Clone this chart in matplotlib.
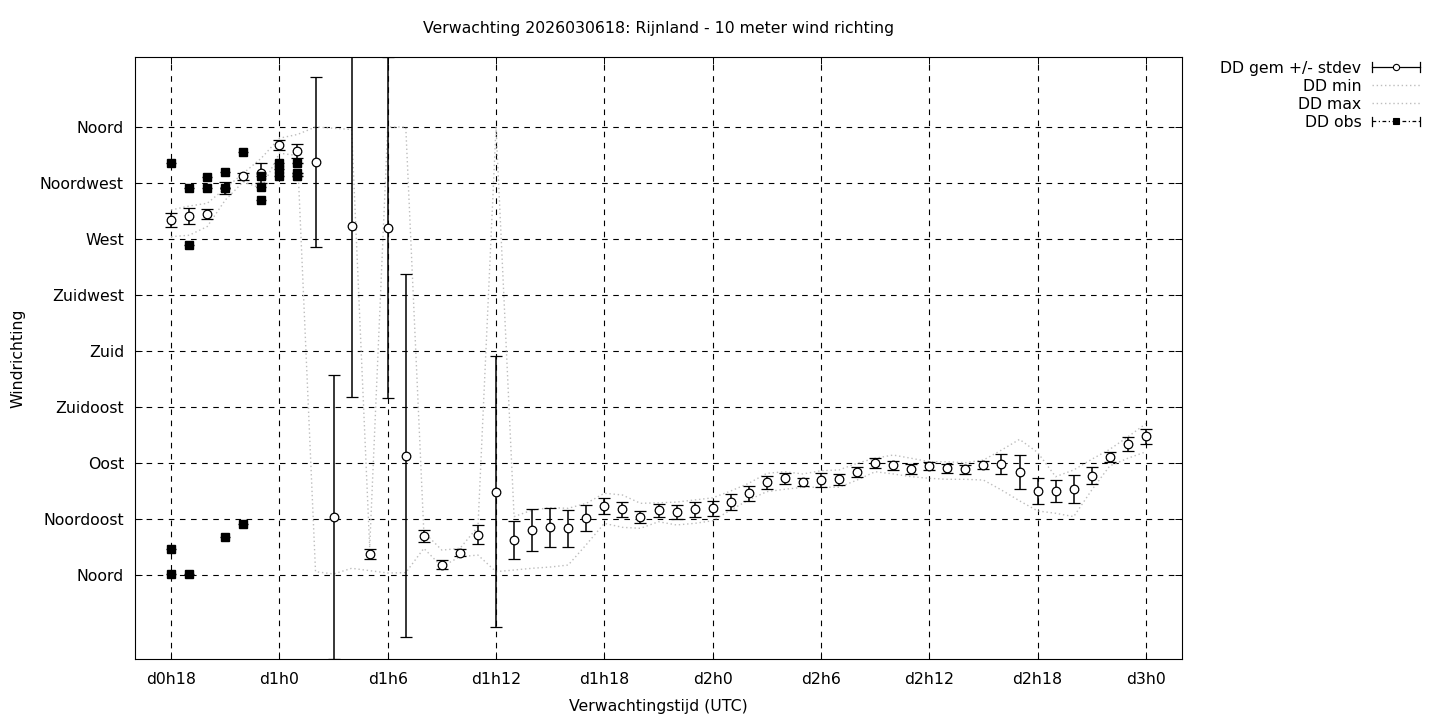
import numpy as np
import matplotlib
matplotlib.use("Agg")
import matplotlib.pyplot as plt
from matplotlib.lines import Line2D
from matplotlib.legend_handler import HandlerBase

plt.rcParams['font.family'] = ['DejaVu Sans']
plt.rcParams['font.size'] = 11.3

# forecast hours since d0h0
hours = list(range(18, 73))

dd_mean = [285.3, 288.5, 290.0, 311.0, 320.6, 323.0, 345.5, 340.7, 331.9, 46.6,
           280.4, 17.0, 278.9, 95.8, 31.7, 8.4, 18.0, 32.3, 66.9, 28.1,
           35.9, 38.3, 37.5, 45.5, 55.2, 53.0, 46.4, 52.2, 50.6, 53.0,
           53.8, 58.7, 65.7, 74.7, 77.7, 74.7, 76.3, 77.1, 82.8, 89.8,
           88.2, 85.2, 87.3, 85.7, 84.9, 88.4, 89.4, 82.8, 67.5, 67.5,
           68.9, 79.6, 94.8, 105.3, 111.5]
dd_sd = [5.6, 6.8, 4.0, 4.8, 2.8, 8.0, 4.0, 6.0, 68.0, 114.0,
         137.5, 4.0, 137.0, 146.0, 4.8, 3.6, 2.8, 7.6, 109.0, 15.0,
         16.8, 15.7, 14.9, 10.4, 6.4, 6.0, 4.8, 5.2, 5.6, 6.0,
         6.0, 6.4, 6.0, 5.2, 4.4, 3.2, 5.6, 4.4, 4.3, 3.9,
         3.8, 3.9, 3.2, 3.5, 3.5, 3.0, 7.9, 13.5, 10.3, 8.6,
         11.1, 6.8, 4.0, 5.9, 5.9]
dd_min = [271.9, 273.0, 280.0, 301.3, 316.0, 310.7, 339.0, 337.0, 2.7, 0.8,
          5.4, 3.5, 1.6, 1.9, 21.4, 6.7, 14.7, 16.0, 2.7, 4.0,
          5.4, 6.4, 8.0, 24.4, 41.5, 38.3, 37.5, 42.8, 40.2, 41.5,
          43.6, 52.2, 60.3, 67.0, 68.9, 70.5, 70.5, 70.5, 76.3, 83.0,
          81.2, 79.0, 77.7, 76.9, 76.9, 76.3, 68.3, 59.6, 51.5, 49.6,
          46.9, 68.3, 87.7, 93.8, 99.0]
dd_max = [293.3, 296.5, 298.7, 310.7, 322.8, 335.0, 351.0, 354.0, 360.0, 359.0,
          358.0, 22.0, 360.0, 360.0, 34.5, 20.0, 21.4, 38.8, 360.0, 46.9,
          52.2, 54.1, 53.6, 57.6, 65.7, 64.3, 57.6, 58.0, 58.6, 60.3,
          62.0, 67.5, 73.7, 81.7, 83.0, 81.2, 83.8, 84.4, 89.8, 93.8,
          96.4, 93.8, 91.0, 91.0, 90.2, 92.4, 100.4, 109.0, 98.5, 79.0,
          84.4, 93.0, 101.0, 111.0, 121.6]

# observations
obs_hours = [18, 18, 18, 19, 19, 19, 20, 20, 21, 21, 21, 22, 22,
             23, 23, 23, 24, 24, 24, 25, 25, 25]
obs_dd = [331.0, 20.7, 0.6, 310.7, 265.0, 0.6, 320.0, 310.7, 323.6, 310.7, 30.3,
          340.2, 40.7, 320.6, 312.0, 301.3, 331.0, 326.0, 320.6, 331.0, 323.3, 320.6]

ytick_vals = [0, 45, 90, 135, 180, 225, 270, 315, 360]
ytick_labels = ['Noord', 'Noordoost', 'Oost', 'Zuidoost', 'Zuid',
                'Zuidwest', 'West', 'Noordwest', 'Noord']
xtick_vals = list(range(18, 73, 6))
xtick_labels = ['d%dh%d' % (h // 24, h % 24) for h in xtick_vals]

minmax_style = dict(color='#bdbdbd', ls=(0, (1, 2)), lw=1.0)


class CapLineHandler(HandlerBase):
    def __init__(self, marker, mfc, ls):
        super().__init__()
        self.marker = marker
        self.mfc = mfc
        self.ls = ls

    def create_artists(self, legend, orig_handle, xdescent, ydescent,
                       width, height, fontsize, trans):
        y = height / 2 - ydescent
        x0, x1 = -xdescent, width - xdescent
        h = 3.5
        arts = [Line2D([x0, x1], [y, y], color='k', lw=0.9, ls=self.ls),
                Line2D([x0, x0], [y - h, y + h], color='k', lw=0.9),
                Line2D([x1, x1], [y - h, y + h], color='k', lw=0.9),
                Line2D([(x0 + x1) / 2], [y], marker=self.marker, mfc=self.mfc,
                       mec='k', ms=4.5, mew=0.8, ls='none')]
        for a in arts:
            a.set_transform(trans)
        return arts


fig = plt.figure(figsize=(14.4, 7.2), dpi=100)
ax = fig.add_axes([135 / 1440, 1 - 659 / 720, 1047 / 1440, 602 / 720])

ax.plot(hours, dd_min, zorder=2, **minmax_style)
ax.plot(hours, dd_max, zorder=2, **minmax_style)

ax.errorbar(hours, dd_mean, yerr=dd_sd, fmt='o', mfc='white', mec='k', mew=0.9,
            ms=6.2, ecolor='k', elinewidth=1.1, capsize=4, capthick=1.1, zorder=3)
ax.errorbar(obs_hours, obs_dd, xerr=0.28, fmt='s', color='k', ms=6,
            elinewidth=1, capsize=0, zorder=4)

ax.set_xlim(16, 74)
ax.set_ylim(-67.5, 416.25)
ax.set_xticks(xtick_vals)
ax.set_xticklabels(xtick_labels)
ax.set_yticks(ytick_vals)
ax.set_yticklabels(ytick_labels)
ax.tick_params(direction='in', length=5, width=0.7, top=True, right=True)
ax.tick_params(axis='x', pad=9)
ax.tick_params(axis='y', pad=8)
ax.grid(True, color='k', ls=(0, (5, 5)), lw=0.8)
for s in ax.spines.values():
    s.set_linewidth(0.8)

ax.set_xlabel('Verwachtingstijd (UTC)')
ax.xaxis.set_label_coords(0.5, (659 - 706) / 602)
ax.xaxis.label.set_va('center')
ax.set_ylabel('Windrichting')
ax.yaxis.set_label_coords((18 - 135) / 1047, 0.5)
ax.yaxis.label.set_va('center')

fig.text(658.5 / 1440, 1 - 29 / 720,
         'Verwachting 2026030618: Rijnland - 10 meter wind richting',
         ha='center', va='center')

h_gem = Line2D([], [])
h_min = Line2D([], [], **minmax_style)
h_max = Line2D([], [], **minmax_style)
h_obs = Line2D([], [])
fig.legend([h_gem, h_min, h_max, h_obs],
           ['DD gem +/- stdev', 'DD min', 'DD max', 'DD obs'],
           handler_map={h_gem: CapLineHandler('o', 'white', '-'),
                        h_obs: CapLineHandler('s', 'k', (0, (3, 2, 1, 2)))},
           loc='upper right', bbox_to_anchor=(1433 / 1440, 1 - 48 / 720),
           frameon=False, markerfirst=False, handlelength=3.1,
           handletextpad=0.65, labelspacing=0.2, borderpad=0.3)

fig.savefig('out.png', dpi=100)
